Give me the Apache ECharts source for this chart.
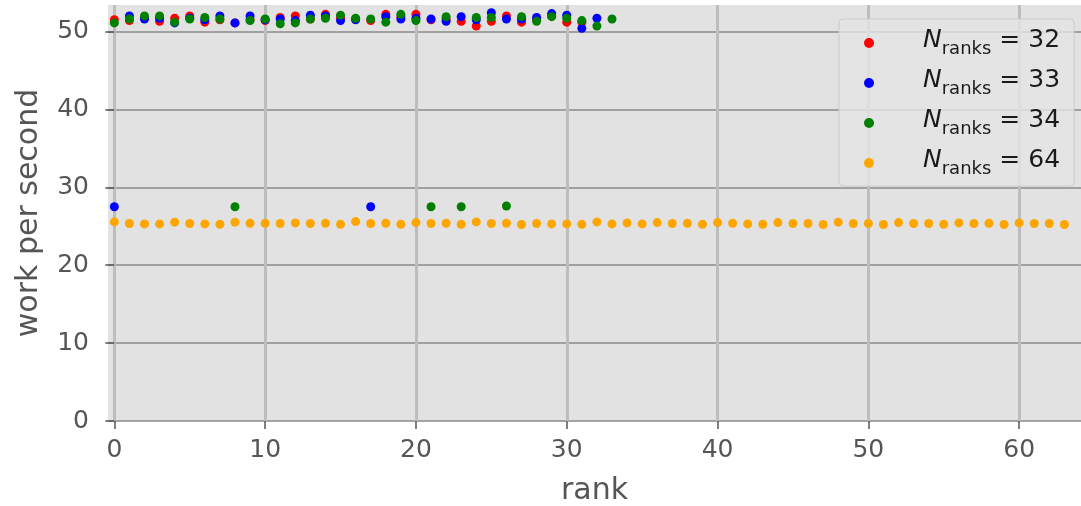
<!DOCTYPE html>
<html>
<head>
<meta charset="utf-8">
<script src="https://cdn.jsdelivr.net/npm/echarts@6/dist/echarts.min.js"></script>
<style>
  html, body { margin: 0; padding: 0; background: #ffffff; }
  #chart { width: 1081px; height: 506px; }
</style>
</head>
<body>
<div id="chart"></div>
<script>
// Work throughput per rank for several job sizes
const rankCounts = ['32', '33', '34', '64'];
const colors = ['#ff0000', '#0000ff', '#008000', '#ffa500'];

const work32 = [51.5, 51.4, 51.7, 51.3, 51.7, 52.0, 51.2, 51.5, 51.1, 51.5,
  51.4, 51.8, 52.0, 51.6, 52.2, 51.8, 51.6, 51.4, 52.2, 51.9,
  52.2, 51.5, 51.6, 51.3, 50.7, 51.3, 52.0, 51.2, 51.5, 52.0,
  51.2, 51.2];
const work33 = [27.5, 52.0, 51.6, 51.7, 51.1, 51.7, 51.5, 52.0, 51.1, 52.0,
  51.5, 51.6, 51.4, 52.1, 52.0, 51.4, 51.5, 27.5, 51.9, 51.6,
  51.7, 51.6, 51.3, 51.9, 51.5, 52.4, 51.6, 51.6, 51.8, 52.3,
  52.1, 50.4, 51.7];
const work34 = [51.1, 51.6, 52.0, 52.0, 51.2, 51.6, 51.8, 51.6, 27.5, 51.4,
  51.6, 51.0, 51.1, 51.6, 51.7, 52.1, 51.7, 51.6, 51.2, 52.2,
  51.4, 27.5, 51.9, 27.5, 51.8, 51.8, 27.6, 51.9, 51.3, 51.9,
  51.7, 51.4, 50.7, 51.6];
const work64 = [25.56, 25.35, 25.30, 25.30, 25.52, 25.35, 25.30, 25.26, 25.52, 25.39,
  25.39, 25.35, 25.43, 25.35, 25.39, 25.26, 25.60, 25.35, 25.39, 25.26,
  25.47, 25.35, 25.39, 25.26, 25.56, 25.35, 25.39, 25.22, 25.35, 25.30,
  25.30, 25.24, 25.56, 25.30, 25.43, 25.30, 25.47, 25.35, 25.39, 25.26,
  25.47, 25.39, 25.30, 25.26, 25.47, 25.35, 25.35, 25.22, 25.52, 25.35,
  25.35, 25.22, 25.47, 25.35, 25.35, 25.26, 25.43, 25.35, 25.39, 25.22,
  25.43, 25.35, 25.35, 25.22];

const xTicks = [0, 10, 20, 30, 40, 50, 60];
const yTicks = [0, 10, 20, 30, 40, 50];

const seriesValues = [work32, work33, work34, work64];

const labelColor = '#555555';
const fontFamily = '"DejaVu Sans", sans-serif';

const chart = echarts.init(document.getElementById('chart'), null, { renderer: 'canvas' });

chart.setOption({
  animation: false,
  backgroundColor: '#ffffff',
  grid: {
    left: 108, right: 0, top: 5, bottom: 85,
    outerBoundsMode: 'none',
    containLabel: false,
    show: true, backgroundColor: '#e2e2e2', borderWidth: 0
  },
  xAxis: {
    type: 'value',
    min: -0.42, max: 64.1,
    name: 'rank',
    nameLocation: 'middle',
    nameGap: 55,
    nameTextStyle: { fontSize: 30, color: labelColor, fontFamily: fontFamily },
    axisLine: { show: false },
    axisTick: { show: true, customValues: xTicks, length: 8, lineStyle: { color: labelColor, width: 1.5 } },
    axisLabel: { customValues: xTicks, fontSize: 25, color: labelColor, fontFamily: fontFamily, margin: 17 },
    splitLine: { show: true, lineStyle: { color: '#bdbdbd', width: 3 } }
  },
  yAxis: {
    type: 'value',
    min: 0, max: 53.4,
    name: 'work per second',
    nameLocation: 'middle',
    nameGap: 64,
    nameTextStyle: { fontSize: 30, color: labelColor, fontFamily: fontFamily },
    axisLine: { show: false },
    axisTick: { show: true, customValues: yTicks, length: 9, lineStyle: { color: labelColor, width: 1.5 } },
    axisLabel: { customValues: yTicks, fontSize: 25, color: labelColor, fontFamily: fontFamily, margin: 19 },
    splitLine: { show: true, lineStyle: { color: '#8a8a8a', width: 1.5 } }
  },
  legend: {
    orient: 'vertical',
    left: 839, top: 19,
    padding: [6, 14, 5, 25],
    itemWidth: 24, itemHeight: 10, itemGap: 4,
    icon: 'circle',
    backgroundColor: 'rgba(229,229,229,0.8)',
    borderColor: '#cccccc', borderWidth: 1, borderRadius: 4,
    data: rankCounts,
    formatter: function (name) {
      return '{n|N}{s|ranks}{e|=}{v|' + name + '}';
    },
    textStyle: {
      color: '#1a1a1a',
      fontFamily: fontFamily,
      rich: {
        n: { fontSize: 25, fontStyle: 'italic', fontFamily: fontFamily, color: '#1a1a1a', lineHeight: 30, padding: [0, 0, 6, 37] },
        s: { fontSize: 18, fontFamily: fontFamily, color: '#1a1a1a', lineHeight: 18, padding: [15, 0, 3, 0] },
        e: { fontSize: 25, fontFamily: fontFamily, color: '#1a1a1a', lineHeight: 30, padding: [0, 8, 6, 8] },
        v: { fontSize: 25, fontFamily: fontFamily, color: '#1a1a1a', lineHeight: 30, padding: [0, 0, 6, 0] }
      }
    }
  },
  series: rankCounts.map(function (name, i) {
    return {
      name: name,
      type: 'scatter',
      symbol: 'circle',
      symbolSize: 9,
      itemStyle: { color: colors[i], opacity: 1 },
      z: 2 + i,
      data: seriesValues[i].map(function (v, r) { return [r, v]; })
    };
  })
});
</script>
</body>
</html>
